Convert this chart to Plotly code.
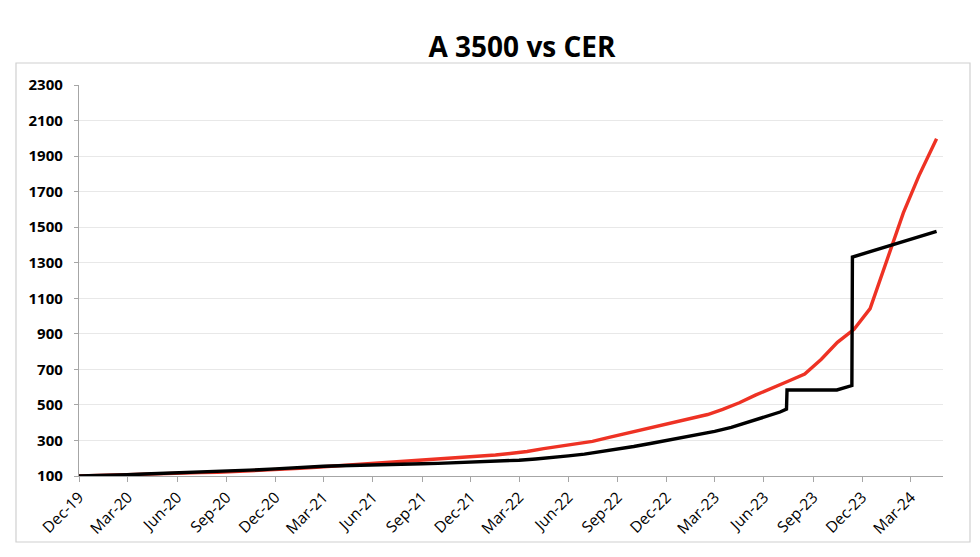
import plotly.graph_objects as go

# ---- Data (index, Dec-19 = 100) ----
cer_dates = [
    "2019-12-01", "2019-12-16", "2020-01-16", "2020-02-16", "2020-03-16", "2020-04-16",
    "2020-05-16", "2020-06-16", "2020-07-16", "2020-08-16", "2020-09-16", "2020-10-16",
    "2020-11-16", "2020-12-16", "2021-01-16", "2021-02-16", "2021-03-16", "2021-04-16",
    "2021-05-16", "2021-06-16", "2021-07-16", "2021-08-16", "2021-09-16", "2021-10-16",
    "2021-11-16", "2021-12-16", "2022-01-16", "2022-02-16", "2022-03-16", "2022-04-16",
    "2022-05-16", "2022-06-16", "2022-07-16", "2022-08-16", "2022-09-16", "2022-10-16",
    "2022-11-16", "2022-12-16", "2023-01-16", "2023-02-16", "2023-03-16", "2023-04-16",
    "2023-05-16", "2023-06-16", "2023-07-16", "2023-08-16", "2023-09-16", "2023-10-16",
    "2023-11-16", "2023-12-16", "2024-01-16", "2024-02-16", "2024-03-16", "2024-04-18",
]
cer_values = [
    100, 101.5, 104.5, 107, 109.5, 113,
    115, 116.5, 119, 121, 124.5, 128,
    133, 137.5, 143, 149, 155, 162,
    169, 175, 181, 186, 191, 197,
    204, 210, 218, 228, 238, 254,
    268, 281, 295, 317, 339, 360,
    382, 400, 421, 446, 475, 512,
    555, 597, 633, 674, 757, 852,
    925, 1042, 1308, 1580, 1789, 1998,
]

a3500_dates = [
    "2019-12-01", "2020-01-01", "2020-02-01", "2020-03-01", "2020-04-01", "2020-05-01",
    "2020-06-01", "2020-07-01", "2020-08-01", "2020-09-01", "2020-10-01", "2020-11-01",
    "2020-12-01", "2021-01-01", "2021-02-01", "2021-03-01", "2021-04-01", "2021-05-01",
    "2021-06-01", "2021-07-01", "2021-08-01", "2021-09-01", "2021-10-01", "2021-11-01",
    "2021-12-01", "2022-01-01", "2022-02-01", "2022-03-01", "2022-04-01", "2022-05-01",
    "2022-06-01", "2022-07-01", "2022-08-01", "2022-09-01", "2022-10-01", "2022-11-01",
    "2022-12-01", "2023-01-01", "2023-02-01", "2023-03-01", "2023-04-01", "2023-05-01",
    "2023-06-01", "2023-07-01", "2023-07-13", "2023-07-14", "2023-10-15", "2023-11-12",
    "2023-11-13", "2023-12-01", "2024-01-01", "2024-02-01", "2024-03-01", "2024-04-01",
    "2024-04-18",
]
a3500_values = [
    100, 101, 104, 107, 111, 114,
    117, 120, 123, 126, 130, 135,
    140, 146, 150, 155, 158, 161,
    163, 165, 167, 169, 171, 174,
    176, 179, 183, 189, 196, 203,
    213, 223, 236, 250, 266, 283,
    299, 315, 332, 351, 373, 402,
    430, 460, 476, 584, 584, 609,
    1332, 1348, 1377, 1405, 1432, 1461,
    1476,
]

tick_dates = [
    "2019-12-01", "2020-03-01", "2020-06-01", "2020-09-01", "2020-12-01", "2021-03-01",
    "2021-06-01", "2021-09-01", "2021-12-01", "2022-03-01", "2022-06-01", "2022-09-01",
    "2022-12-01", "2023-03-01", "2023-06-01", "2023-09-01", "2023-12-01", "2024-03-01",
]
tick_labels = [
    "Dec-19", "Mar-20", "Jun-20", "Sep-20", "Dec-20", "Mar-21",
    "Jun-21", "Sep-21", "Dec-21", "Mar-22", "Jun-22", "Sep-22",
    "Dec-22", "Mar-23", "Jun-23", "Sep-23", "Dec-23", "Mar-24",
]
y_ticks = [100, 300, 500, 700, 900, 1100, 1300, 1500, 1700, 1900, 2100, 2300]

fig = go.Figure()
fig.add_trace(go.Scatter(x=cer_dates, y=cer_values, mode="lines", name="CER",
                         line=dict(color="#ee3224", width=3.4)))
fig.add_trace(go.Scatter(x=a3500_dates, y=a3500_values, mode="lines", name="A 3500",
                         line=dict(color="#000000", width=3.4)))

# page body has an 8px margin, so positions are shifted by -8
OFF = 8
L, R, T, B = 79 - OFF, 943 - OFF, 85 - OFF, 476 - OFF
W, H = 980 - 2 * OFF, 557 - 2 * OFF
fig.update_layout(
    width=W, height=H,
    margin=dict(l=L, r=W - R, t=T, b=H - B, autoexpand=False),
    paper_bgcolor="white", plot_bgcolor="white",
    showlegend=False,
    title=dict(text="<b>A 3500 vs CER</b>", x=(522 - OFF - L) / (R - L), xref="paper",
               xanchor="center", y=1 - (47 - OFF) / H, yref="container", yanchor="middle",
               font=dict(family="Open Sans", size=28, color="#000000")),
    font=dict(family="Open Sans", color="#000000"),
)
fig.update_xaxes(
    type="date", range=["2019-12-01", "2024-04-30"],
    tickvals=tick_dates, ticktext=tick_labels, tickangle=-45,
    ticks="outside", ticklen=5, tickcolor="#a6a6a6", tickwidth=1,
    showline=True, linecolor="#a6a6a6", linewidth=1.3,
    showgrid=False, zeroline=False,
    tickfont=dict(family="Open Sans", size=15.5, color="#000000"),
)
fig.update_yaxes(
    range=[100, 2300], tickvals=y_ticks,
    ticks="outside", ticklen=4, tickcolor="#a6a6a6", tickwidth=1,
    showline=True, linecolor="#a6a6a6", linewidth=1.3,
    showgrid=True, gridcolor="#e8e8e8", gridwidth=1, zeroline=False,
    ticklabelstandoff=8,
    tickfont=dict(family="Open Sans", size=15, color="#000000", weight="bold"),
)
# outer chart border
fig.add_shape(type="rect", xref="paper", yref="paper",
              x0=(16 - OFF - L) / (R - L), x1=(970 - OFF - L) / (R - L),
              y0=(B - (542 - OFF)) / (B - T), y1=(B - (63 - OFF)) / (B - T),
              line=dict(color="#d0d0d0", width=1.2), fillcolor="rgba(0,0,0,0)", layer="below")

fig.write_html("out.html")
